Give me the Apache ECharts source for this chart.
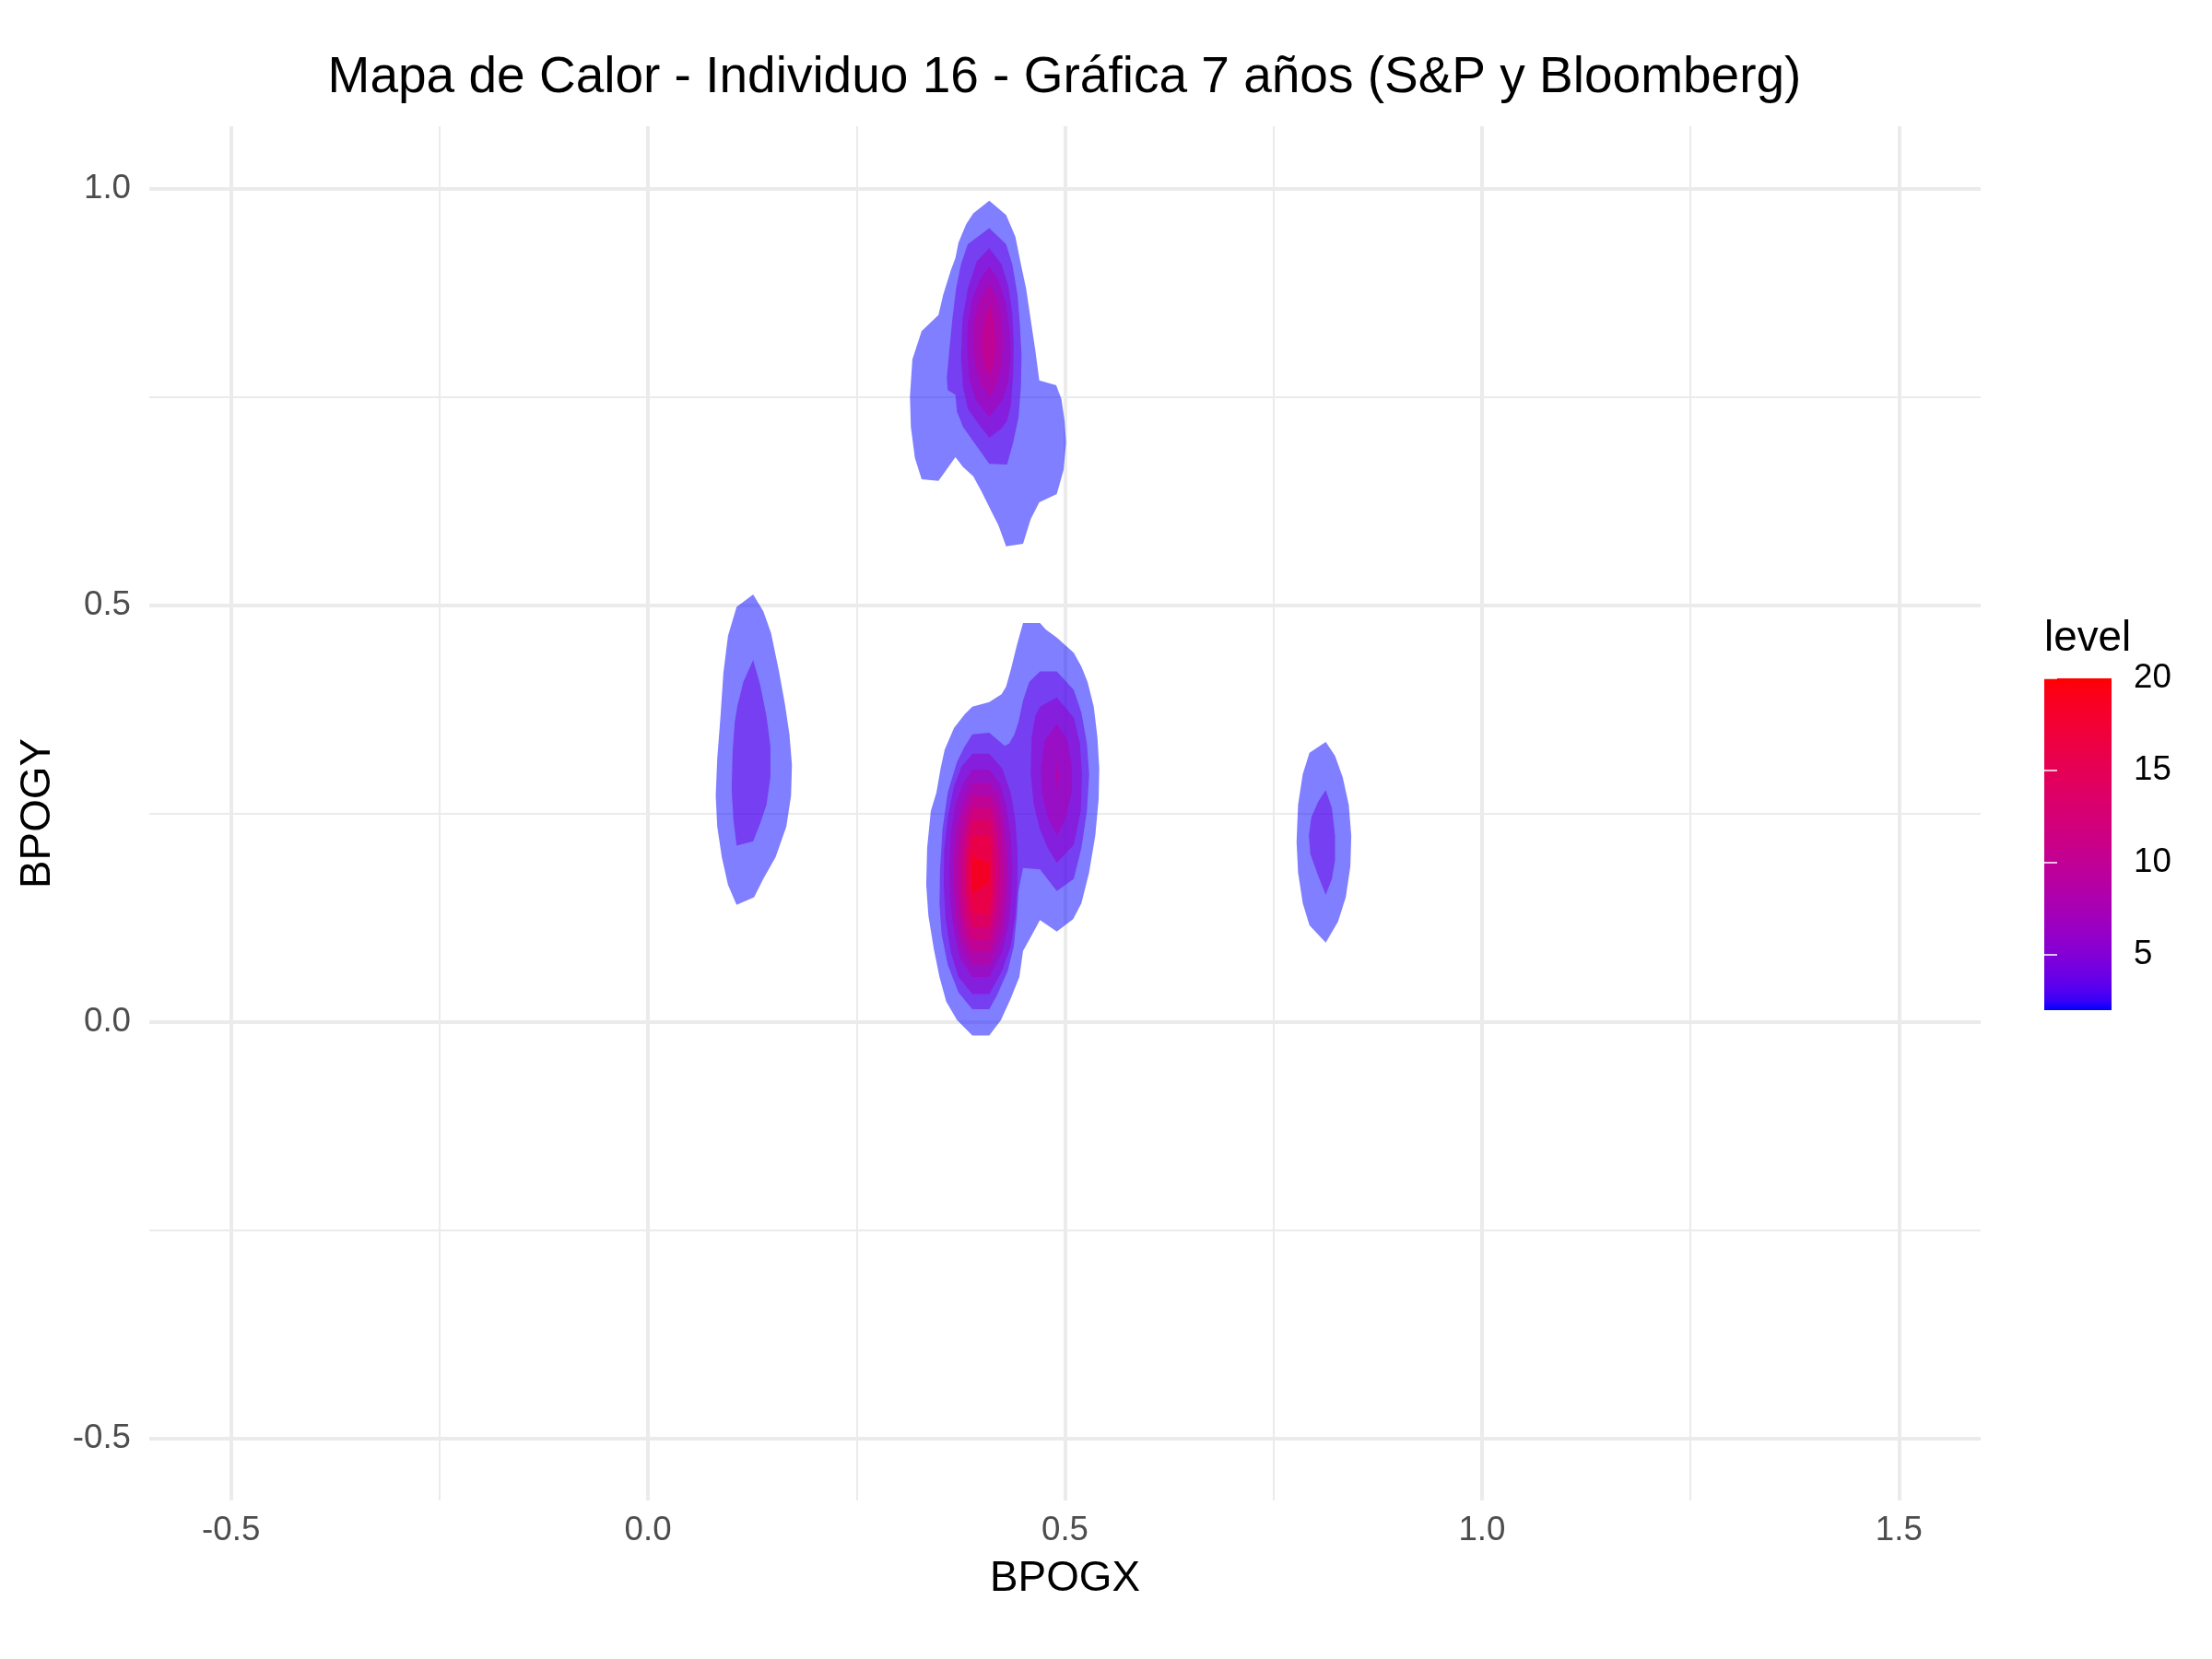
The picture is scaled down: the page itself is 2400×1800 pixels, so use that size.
<!DOCTYPE html>
<html>
<head>
<meta charset="utf-8">
<script src="https://cdn.jsdelivr.net/npm/echarts@6/dist/echarts.min.js"></script>
<style>
html,body{margin:0;padding:0;background:#fff;}
#chart{width:2400px;height:1800px;}
</style>
</head>
<body>
<div id="chart"></div>
<script>
// ---------- Axis data ----------
var xRange = [-0.598, 1.598];
var yRange = [-0.574, 1.0746];
var xMajor = [-0.5, 0, 0.5, 1, 1.5];
var xMinor = [-0.25, 0.25, 0.75, 1.25];
var yMajor = [-0.5, 0, 0.5, 1];
var yMinor = [-0.25, 0.25, 0.75];
var levelRange = [2, 20];
var levelTicks = [5, 10, 15, 20];

// ---------- Density contours (BPOGX, BPOGY) ----------
// Top cluster
var top_L2 = [[0.4092,0.9854],[0.4294,0.9681],[0.4405,0.9423],[0.4479,0.9054],[0.4534,0.8797],[0.4589,0.8428],[0.4644,0.8059],[0.4692,0.7698],[0.4895,0.7639],[0.4958,0.7470],[0.4995,0.7211],[0.5013,0.6953],[0.4983,0.6622],[0.4902,0.6334],[0.4692,0.6235],[0.4589,0.6032],[0.4497,0.5737],[0.4294,0.5708],[0.4202,0.5958],[0.4128,0.6106],[0.3999,0.6364],[0.3900,0.6548],[0.3778,0.6659],[0.3686,0.6777],[0.3576,0.6622],[0.3483,0.6493],[0.3281,0.6511],[0.3200,0.6769],[0.3152,0.7138],[0.3141,0.7506],[0.3170,0.7949],[0.3281,0.8288],[0.3483,0.8483],[0.3539,0.8723],[0.3631,0.9018],[0.3686,0.9165],[0.3723,0.9350],[0.3815,0.9571],[0.3900,0.9700]];
var top_L4 = [[0.4092,0.9523],[0.4294,0.9331],[0.4368,0.9091],[0.4431,0.8723],[0.4460,0.8354],[0.4479,0.7986],[0.4471,0.7617],[0.4442,0.7248],[0.4379,0.6953],[0.4305,0.6688],[0.4092,0.6695],[0.3870,0.7009],[0.3778,0.7138],[0.3705,0.7322],[0.3686,0.7525],[0.3594,0.7580],[0.3583,0.7728],[0.3613,0.8059],[0.3649,0.8428],[0.3694,0.8797],[0.3753,0.9091],[0.3834,0.9331]];
var top_L6 = [[0.4092,0.9283],[0.4239,0.9091],[0.4320,0.8833],[0.4368,0.8502],[0.4386,0.8133],[0.4379,0.7764],[0.4350,0.7396],[0.4305,0.7211],[0.4239,0.7119],[0.4092,0.7009],[0.3963,0.7175],[0.3834,0.7359],[0.3778,0.7617],[0.3753,0.7986],[0.3771,0.8428],[0.3834,0.8797],[0.3944,0.9128]];
var top_L8 = [[0.4092,0.9062],[0.4202,0.8907],[0.4294,0.8612],[0.4339,0.8280],[0.4350,0.7986],[0.4320,0.7691],[0.4257,0.7470],[0.4092,0.7256],[0.3926,0.7470],[0.3852,0.7728],[0.3826,0.8059],[0.3834,0.8354],[0.3889,0.8686],[0.3981,0.8907]];
var top_L10 = [[0.4092,0.8852],[0.4184,0.8686],[0.4239,0.8428],[0.4254,0.8133],[0.4239,0.7875],[0.4184,0.7654],[0.4092,0.7488],[0.3999,0.7654],[0.3926,0.7875],[0.3900,0.8133],[0.3915,0.8428],[0.3981,0.8686]];
var top_L12 = [[0.4092,0.8612],[0.4147,0.8428],[0.4173,0.8170],[0.4158,0.7949],[0.4092,0.7746],[0.4018,0.7949],[0.3999,0.8170],[0.4036,0.8428]];

// Central cluster (two peaks)
var mid_L2 = [[0.4497,0.4786],[0.4700,0.4786],[0.4773,0.4705],[0.4902,0.4613],[0.5105,0.4429],[0.5197,0.4263],[0.5271,0.4078],[0.5345,0.3783],[0.5389,0.3415],[0.5411,0.3046],[0.5404,0.2678],[0.5363,0.2235],[0.5289,0.1793],[0.5197,0.1424],[0.5098,0.1233],[0.4902,0.1085],[0.4700,0.1222],[0.4589,0.1019],[0.4497,0.0853],[0.4453,0.0540],[0.4350,0.0282],[0.4232,0.0024],[0.4092,-0.0161],[0.3889,-0.0161],[0.3705,0.0024],[0.3576,0.0245],[0.3495,0.0540],[0.3428,0.0871],[0.3362,0.1277],[0.3336,0.1645],[0.3347,0.2088],[0.3391,0.2530],[0.3458,0.2751],[0.3509,0.3046],[0.3557,0.3267],[0.3668,0.3525],[0.3797,0.3691],[0.3889,0.3783],[0.4092,0.3839],[0.4239,0.3931],[0.4294,0.4023],[0.4350,0.4226],[0.4423,0.4521]];
var mid_L4 = [[0.3889,0.3452],[0.4092,0.3470],[0.4276,0.3312],[0.4331,0.3341],[0.4394,0.3452],[0.4442,0.3599],[0.4497,0.3857],[0.4571,0.4078],[0.4700,0.4207],[0.4902,0.4207],[0.5105,0.3986],[0.5197,0.3710],[0.5263,0.3341],[0.5289,0.2972],[0.5263,0.2530],[0.5197,0.2088],[0.5105,0.1719],[0.4902,0.1572],[0.4700,0.1830],[0.4497,0.1848],[0.4442,0.1572],[0.4423,0.1277],[0.4386,0.0908],[0.4313,0.0613],[0.4184,0.0318],[0.4092,0.0153],[0.3889,0.0153],[0.3723,0.0355],[0.3594,0.0687],[0.3520,0.1056],[0.3495,0.1424],[0.3502,0.1830],[0.3531,0.2309],[0.3594,0.2751],[0.3705,0.3120],[0.3797,0.3304]];
var midR_L6 = [[0.4700,0.3783],[0.4902,0.3894],[0.5105,0.3654],[0.5179,0.3341],[0.5204,0.2972],[0.5190,0.2530],[0.5105,0.2125],[0.4902,0.1911],[0.4792,0.2088],[0.4700,0.2309],[0.4626,0.2604],[0.4589,0.2972],[0.4600,0.3415],[0.4644,0.3673]];
var midR_L8 = [[0.4902,0.3581],[0.5031,0.3378],[0.5087,0.3046],[0.5079,0.2751],[0.5013,0.2456],[0.4902,0.2235],[0.4792,0.2456],[0.4725,0.2751],[0.4711,0.3046],[0.4755,0.3378]];
var midR_L10 = [[0.4902,0.3138],[0.4928,0.2954],[0.4902,0.2770],[0.4880,0.2954]];
var midL_L6 = [[0.3889,0.3219],[0.4092,0.3219],[0.4246,0.3046],[0.4350,0.2751],[0.4405,0.2420],[0.4431,0.2051],[0.4431,0.1682],[0.4405,0.1277],[0.4350,0.0908],[0.4246,0.0613],[0.4092,0.0337],[0.3889,0.0337],[0.3723,0.0540],[0.3631,0.0835],[0.3568,0.1240],[0.3546,0.1645],[0.3550,0.2051],[0.3594,0.2456],[0.3668,0.2825],[0.3760,0.3065]];
var midL_L8 = [[0.3889,0.3028],[0.4092,0.3028],[0.4221,0.2862],[0.4294,0.2604],[0.4350,0.2235],[0.4368,0.1867],[0.4357,0.1498],[0.4320,0.1129],[0.4246,0.0835],[0.4092,0.0540],[0.3889,0.0540],[0.3742,0.0761],[0.3668,0.1093],[0.3620,0.1461],[0.3613,0.1867],[0.3631,0.2272],[0.3686,0.2604],[0.3778,0.2862]];
var midL_L10 = [[0.3889,0.2869],[0.4092,0.2869],[0.4202,0.2714],[0.4257,0.2456],[0.4305,0.2088],[0.4313,0.1719],[0.4294,0.1351],[0.4239,0.1019],[0.4092,0.0687],[0.3889,0.0687],[0.3760,0.0908],[0.3694,0.1240],[0.3668,0.1609],[0.3668,0.1977],[0.3705,0.2346],[0.3778,0.2641]];
var midL_L12 = [[0.3889,0.2714],[0.4092,0.2714],[0.4184,0.2549],[0.4232,0.2272],[0.4257,0.1903],[0.4257,0.1535],[0.4221,0.1203],[0.4092,0.0835],[0.3889,0.0835],[0.3778,0.1056],[0.3730,0.1387],[0.3716,0.1756],[0.3730,0.2125],[0.3789,0.2456]];
var midL_L14 = [[0.3889,0.2567],[0.4092,0.2567],[0.4165,0.2383],[0.4202,0.2088],[0.4210,0.1719],[0.4184,0.1351],[0.4092,0.0982],[0.3889,0.0982],[0.3797,0.1240],[0.3760,0.1572],[0.3767,0.1940],[0.3815,0.2272]];
var midL_L16 = [[0.3889,0.2420],[0.4092,0.2420],[0.4147,0.2198],[0.4165,0.1867],[0.4158,0.1498],[0.4092,0.1129],[0.3889,0.1129],[0.3826,0.1387],[0.3804,0.1719],[0.3815,0.2051],[0.3841,0.2235]];
var midL_L18 = [[0.3889,0.2243],[0.4092,0.2243],[0.4121,0.1977],[0.4128,0.1645],[0.4092,0.1295],[0.3889,0.1295],[0.3852,0.1572],[0.3841,0.1867],[0.3863,0.2088]];
var midL_L20 = [[0.3889,0.2003],[0.4092,0.1903],[0.4099,0.1682],[0.3889,0.1535],[0.3870,0.1756]];

// Left blob
var left_L2 = [[0.1261,0.5129],[0.1383,0.4926],[0.1475,0.4668],[0.1567,0.4226],[0.1641,0.3820],[0.1696,0.3452],[0.1726,0.3083],[0.1715,0.2714],[0.1659,0.2346],[0.1530,0.1977],[0.1383,0.1719],[0.1272,0.1498],[0.1062,0.1406],[0.0959,0.1645],[0.0885,0.1977],[0.0830,0.2346],[0.0812,0.2714],[0.0830,0.3157],[0.0867,0.3636],[0.0904,0.4189],[0.0959,0.4631],[0.1062,0.4981]];
var left_L4 = [[0.1261,0.4344],[0.1346,0.4041],[0.1420,0.3673],[0.1468,0.3304],[0.1468,0.2936],[0.1420,0.2604],[0.1346,0.2383],[0.1261,0.2169],[0.1062,0.2117],[0.1025,0.2420],[0.1003,0.2788],[0.1014,0.3230],[0.1040,0.3599],[0.1070,0.3783],[0.1143,0.4078]];

// Right blob
var right_L2 = [[0.8127,0.3360],[0.8238,0.3194],[0.8330,0.2936],[0.8403,0.2604],[0.8433,0.2235],[0.8422,0.1867],[0.8367,0.1498],[0.8274,0.1203],[0.8127,0.0952],[0.7932,0.1159],[0.7851,0.1424],[0.7795,0.1793],[0.7777,0.2162],[0.7795,0.2604],[0.7851,0.2972],[0.7932,0.3230]];
var right_L4 = [[0.8127,0.2781],[0.8201,0.2567],[0.8238,0.2235],[0.8238,0.1940],[0.8201,0.1719],[0.8127,0.1527],[0.8035,0.1756],[0.7943,0.2014],[0.7924,0.2235],[0.7954,0.2456],[0.8035,0.2641]];

// contour pieces in drawing order (level, polygon)
var pieces = [
  [2, top_L2], [2, mid_L2], [2, left_L2], [2, right_L2],
  [4, top_L4], [4, mid_L4], [4, left_L4], [4, right_L4],
  [6, top_L6], [6, midR_L6], [6, midL_L6],
  [8, top_L8], [8, midR_L8], [8, midL_L8],
  [10, top_L10], [10, midR_L10], [10, midL_L10],
  [12, top_L12], [12, midL_L12],
  [14, midL_L14],
  [16, midL_L16],
  [18, midL_L18],
  [20, midL_L20]
];

// ---------- Colour scale: blue -> red interpolated in CIELAB ----------
function srgbToLin(c){ c/=255; return c<=0.04045? c/12.92 : Math.pow((c+0.055)/1.055,2.4); }
function linToSrgb(c){ var v = c<=0.0031308? 12.92*c : 1.055*Math.pow(c,1/2.4)-0.055; return Math.max(0,Math.min(255,Math.round(v*255))); }
var Xn=0.95047,Yn=1.0,Zn=1.08883;
function fLab(t){ return t>0.008856? Math.cbrt(t) : 7.787*t+16/116; }
function fInv(t){ return t>0.206893? t*t*t : (t-16/116)/7.787; }
function rgbToLab(rgb){
  var r=srgbToLin(rgb[0]),g=srgbToLin(rgb[1]),b=srgbToLin(rgb[2]);
  var X=0.4124564*r+0.3575761*g+0.1804375*b, Y=0.2126729*r+0.7151522*g+0.0721750*b, Z=0.0193339*r+0.1191920*g+0.9503041*b;
  var fx=fLab(X/Xn),fy=fLab(Y/Yn),fz=fLab(Z/Zn);
  return [116*fy-16, 500*(fx-fy), 200*(fy-fz)];
}
function labToRgb(lab){
  var fy=(lab[0]+16)/116, fx=fy+lab[1]/500, fz=fy-lab[2]/200;
  var X=Xn*fInv(fx),Y=Yn*fInv(fy),Z=Zn*fInv(fz);
  var r= 3.2404542*X-1.5371385*Y-0.4985314*Z;
  var g=-0.9692660*X+1.8760108*Y+0.0415560*Z;
  var b= 0.0556434*X-0.2040259*Y+1.0572252*Z;
  return [linToSrgb(r),linToSrgb(g),linToSrgb(b)];
}
var labLow = rgbToLab([0,0,255]), labHigh = rgbToLab([255,0,0]);
function colorFor(level){
  var t=(level-levelRange[0])/(levelRange[1]-levelRange[0]);
  t=Math.max(0,Math.min(1,t));
  var c=labToRgb([labLow[0]+(labHigh[0]-labLow[0])*t, labLow[1]+(labHigh[1]-labLow[1])*t, labLow[2]+(labHigh[2]-labLow[2])*t]);
  return 'rgb('+c[0]+','+c[1]+','+c[2]+')';
}

var FONT = 'Liberation Sans, Arial, Helvetica, sans-serif';
var chart = echarts.init(document.getElementById('chart'), null, {renderer:'canvas'});

var series = [];
// grid lines via markLine through the axes (drawn beneath the contours)
var gridLineData = [];
xMajor.forEach(function(v){ gridLineData.push({xAxis:v, lineStyle:{width:4, color:'#EBEBEB', type:'solid'}}); });
xMinor.forEach(function(v){ gridLineData.push({xAxis:v, lineStyle:{width:2, color:'#EBEBEB', type:'solid'}}); });
yMajor.forEach(function(v){ gridLineData.push({yAxis:v, lineStyle:{width:4, color:'#EBEBEB', type:'solid'}}); });
yMinor.forEach(function(v){ gridLineData.push({yAxis:v, lineStyle:{width:2, color:'#EBEBEB', type:'solid'}}); });
series.push({
  type:'line', xAxisIndex:0, yAxisIndex:0, data:[], z:1, silent:true,
  markLine:{z:1, silent:true, symbol:['none','none'], label:{show:false}, animation:false, data:gridLineData}
});

pieces.forEach(function(pc, i){
  var lvl = pc[0], pts = pc[1];
  series.push({
    type:'custom', xAxisIndex:0, yAxisIndex:0, z:10, silent:true,
    data: pts, encode:{x:0, y:1},
    renderItem: function(params, api){
      if (params.dataIndex !== 0) return null;
      var points = pts.map(function(p){ return api.coord(p); });
      return {type:'polygon', shape:{points:points}, style:{fill:colorFor(lvl), opacity:0.5}};
    }
  });
});

// colour bar
var stops=[];
for (var k=0;k<=36;k++){ var lv=levelRange[0]+(levelRange[1]-levelRange[0])*k/36; stops.push({offset:k/36, color:colorFor(lv)}); }
series.push({
  type:'custom', xAxisIndex:1, yAxisIndex:1, z:2, silent:true,
  data:[[0, levelRange[0], 1, levelRange[1]]],
  renderItem: function(params, api){
    var p0 = api.coord([api.value(0), api.value(3)]);
    var p1 = api.coord([api.value(2), api.value(1)]);
    return {type:'rect', shape:{x:p0[0], y:p0[1], width:p1[0]-p0[0], height:p1[1]-p0[1]},
      style:{fill:{type:'linear', x:0, y:1, x2:0, y2:0, colorStops:stops}}};
  }
});

var option = {
  animation:false,
  backgroundColor:'#ffffff',
  grid:[
    {left:162, top:137, width:1987, height:1491, containLabel:false},
    {left:2218, top:736, width:73, height:360, containLabel:false}
  ],
  xAxis:[
    {type:'value', gridIndex:0, min:xRange[0], max:xRange[1],
     name:'BPOGX', nameLocation:'middle', nameGap:62,
     nameTextStyle:{fontFamily:FONT, fontSize:45.8, color:'#000000'},
     axisLine:{show:false}, axisTick:{show:false}, splitLine:{show:false},
     axisLabel:{customValues:xMajor, fontFamily:FONT, fontSize:36.7, color:'#4D4D4D', margin:14,
       formatter:function(v){ return v.toFixed(1); }}},
    {type:'value', gridIndex:1, min:0, max:1, show:false}
  ],
  yAxis:[
    {type:'value', gridIndex:0, min:yRange[0], max:yRange[1],
     name:'BPOGY', nameLocation:'middle', nameGap:98,
     nameTextStyle:{fontFamily:FONT, fontSize:45.8, color:'#000000'},
     axisLine:{show:false}, axisTick:{show:false}, splitLine:{show:false},
     axisLabel:{customValues:yMajor, fontFamily:FONT, fontSize:36.7, color:'#4D4D4D', margin:20,
       formatter:function(v){ return v.toFixed(1); }}},
    {type:'value', gridIndex:1, min:levelRange[0], max:levelRange[1], position:'right', z:10,
     axisLine:{show:false}, splitLine:{show:false},
     axisTick:{show:true, inside:true, length:14, customValues:levelTicks, lineStyle:{color:'#ffffff', width:1.5}},
     axisLabel:{show:true, customValues:levelTicks, fontFamily:FONT, fontSize:36.7, color:'#000000', margin:24}},
    {type:'value', gridIndex:1, min:levelRange[0], max:levelRange[1], position:'left', z:10,
     axisLine:{show:false}, splitLine:{show:false},
     axisTick:{show:true, inside:true, length:14, customValues:levelTicks, lineStyle:{color:'#ffffff', width:1.5}},
     axisLabel:{show:false}}
  ],
  graphic:[
    {type:'text', x:1155, y:57, z:100,
     style:{text:'Mapa de Calor - Individuo 16 - Gráfica 7 años (S&P y Bloomberg)', font:'55px '+FONT, fill:'#000000',
       textAlign:'center', align:'center', textVerticalAlign:'top', verticalAlign:'top'}},
    {type:'text', x:2218, y:670, z:100,
     style:{text:'level', font:'45.8px '+FONT, fill:'#000000', textAlign:'left', align:'left', textVerticalAlign:'top', verticalAlign:'top'}}
  ],
  series:series
};
chart.setOption(option);
</script>
</body>
</html>
